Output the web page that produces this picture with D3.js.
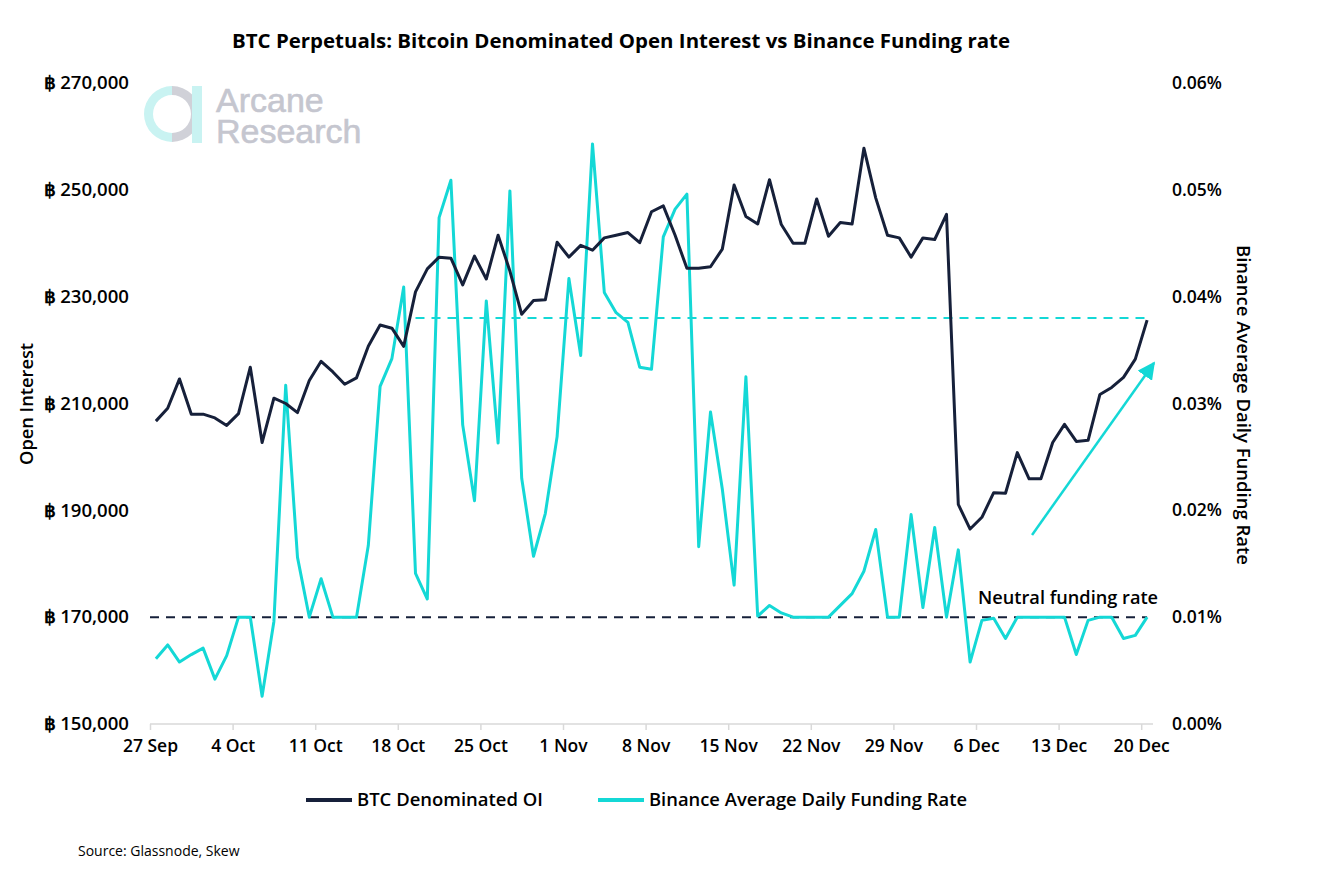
<!DOCTYPE html>
<html>
<head>
<meta charset="utf-8">
<script src="https://cdn.jsdelivr.net/npm/d3@7"></script>
<style>
  body { margin: 0; background: #ffffff; }
  svg { font-family: "Open Sans", "Noto Sans", sans-serif; }
</style>
</head>
<body>
<svg id="chart" width="1330" height="886"></svg>
<script>
// first day of the series, one value per day
var startDate = "27 Sep 2020";

var openInterest = [206700, 209100, 214600, 208000, 208000, 207300, 205900, 208100, 216800, 202700,
  211000, 210000, 208300, 214300, 217900, 215900, 213600, 214800, 220700, 224700,
  224100, 220700, 230900, 235200, 237400, 237200, 232200, 237600, 233300, 241500,
  234800, 226700, 229300, 229400, 240200, 237400, 239600, 238700, 241000, 241500,
  242000, 240100, 245900, 247000, 241500, 235300, 235300, 235600, 238900, 250900,
  245000, 243600, 251900, 243500, 240000, 240000, 248300, 241300, 243900, 243600,
  257800, 248500, 241500, 241000, 237400, 241000, 240700, 245400, 191100, 186500,
  188700, 193300, 193200, 200800, 195900, 195900, 202700, 206100, 202900, 203100,
  211700, 213000, 214900, 218300, 225600];

// percent
var fundingRate = [0.0061, 0.0074, 0.0058, 0.0065, 0.0071, 0.0042, 0.0064, 0.0100, 0.0100, 0.0026,
  0.0096, 0.0317, 0.0156, 0.0100, 0.0136, 0.0100, 0.0100, 0.0100, 0.0167, 0.0316,
  0.0342, 0.0409, 0.0141, 0.0117, 0.0474, 0.0509, 0.0280, 0.0209, 0.0396, 0.0263,
  0.0499, 0.0230, 0.0157, 0.0197, 0.0269, 0.0417, 0.0345, 0.0543, 0.0404, 0.0385,
  0.0376, 0.0334, 0.0332, 0.0456, 0.0482, 0.0496, 0.0166, 0.0292, 0.0220, 0.0130,
  0.0325, 0.0101, 0.0111, 0.0104, 0.0100, 0.0100, 0.0100, 0.0100, 0.0111, 0.0122,
  0.0143, 0.0182, 0.0100, 0.0100, 0.0196, 0.0109, 0.0184, 0.0100, 0.0163, 0.0058,
  0.0097, 0.0099, 0.0080, 0.0100, 0.0100, 0.0100, 0.0100, 0.0100, 0.0065, 0.0097,
  0.0100, 0.0100, 0.0080, 0.0083, 0.0100];

var xTickLabels = ["27 Sep", "4 Oct", "11 Oct", "18 Oct", "25 Oct", "1 Nov", "8 Nov",
  "15 Nov", "22 Nov", "29 Nov", "6 Dec", "13 Dec", "20 Dec"];
var oiTicks = [150000, 170000, 190000, 210000, 230000, 250000, 270000];
var rateTicks = [0, 0.01, 0.02, 0.03, 0.04, 0.05, 0.06];

var neutralRate = 0.01;
var recentRate = 0.038;      // level of the light blue dashed line
var recentFromDay = 22;      // day index where it starts
// arrow annotation, [day, open interest]
var arrowFrom = [74.75, 185400];
var arrowTo = [85.1, 217600];

var seriesNames = ["BTC Denominated OI", "Binance Average Daily Funding Rate"];

var navy = "#16203a";
var cyan = "#14d8d6";

var svg = d3.select("#chart");
var margin = { left: 150, right: 1153, top: 83, bottom: 724 };

var parseDay = d3.timeParse("%d %b %Y");
var day0 = parseDay(startDate);
var year = day0.getFullYear();
function dayAt(i) { return d3.timeHour.offset(day0, i * 24); }

// points sit in the middle of each day, like a date axis "between tick marks"
var x = d3.scaleTime()
  .domain([day0, d3.timeDay.offset(day0, openInterest.length)])
  .range([margin.left, margin.right]);
var yOI = d3.scaleLinear().domain([150000, 270000]).range([margin.bottom, margin.top]);
var yRate = d3.scaleLinear().domain([0, 0.06]).range([margin.bottom, margin.top]);

var oiData = openInterest.map(function(v, i) { return { t: dayAt(i + 0.5), v: v }; });
var rateData = fundingRate.map(function(v, i) { return { t: dayAt(i + 0.5), v: v }; });

// watermark
var logo = svg.append("g").attr("class", "logo");
var ring = d3.arc().innerRadius(19).outerRadius(28);
logo.append("path")
  .attr("transform", "translate(172,114)")
  .attr("d", ring({ startAngle: Math.PI, endAngle: 2 * Math.PI }))
  .attr("fill", "#c9f3f2");
logo.append("path")
  .attr("transform", "translate(172,114)")
  .attr("d", ring({ startAngle: 0, endAngle: Math.PI }))
  .attr("fill", "#d0d1d8");
logo.append("rect").attr("x", 192).attr("y", 86).attr("width", 10).attr("height", 57).attr("fill", "#c9f3f2");
var logoText = logo.append("text")
  .style("font-family", "'Liberation Sans', Arial, sans-serif").style("font-size", "34px")
  .attr("fill", "#c5c6cf").attr("stroke", "#c5c6cf").attr("stroke-width", 0.6);
logoText.append("tspan").attr("x", 216).attr("y", 112).text("Arcane");
logoText.append("tspan").attr("x", 216).attr("y", 143).text("Research");

// title
svg.append("text")
  .attr("x", 621).attr("y", 48)
  .attr("text-anchor", "middle")
  .style("font-size", "20px").style("font-weight", "700")
  .attr("fill", "#000")
  .attr("textLength", 778).attr("lengthAdjust", "spacingAndGlyphs")
  .text("BTC Perpetuals: Bitcoin Denominated Open Interest vs Binance Funding rate");

// x axis
var tickDates = xTickLabels.map(function(s) { return parseDay(s + " " + year); });
var xAxis = d3.axisBottom(x)
  .tickValues(tickDates)
  .tickSize(6)
  .tickPadding(10)
  .tickFormat(function(d, i) { return xTickLabels[i]; });

var gx = svg.append("g")
  .attr("transform", "translate(0," + margin.bottom + ")")
  .call(xAxis);
gx.select(".domain").attr("stroke", "#d9d9d9").attr("stroke-width", 1.5)
  .attr("d", "M" + margin.left + ",0H" + margin.right);
gx.selectAll(".tick line").attr("stroke", "#d9d9d9").attr("stroke-width", 1.5);
gx.selectAll(".tick text")
  .style("font-size", "17.5px").style("font-weight", "600").attr("fill", "#000")
  .style("font-family", "'Open Sans', sans-serif");

// left axis
var gl = svg.append("g")
  .attr("transform", "translate(" + (margin.left - 21) + ",0)")
  .call(d3.axisLeft(yOI).tickValues(oiTicks).tickSize(0).tickPadding(0)
    .tickFormat(function(d) { return "\u0E3F " + d3.format(",")(d); }));
gl.select(".domain").remove();
gl.selectAll(".tick text")
  .style("font-size", "18px").style("font-weight", "600").attr("fill", "#000")
  .style("font-family", "'Open Sans', sans-serif")
  .attr("textLength", 85).attr("lengthAdjust", "spacingAndGlyphs");

// right axis
var gr = svg.append("g")
  .attr("transform", "translate(" + (margin.right + 19) + ",0)")
  .call(d3.axisRight(yRate).tickValues(rateTicks).tickSize(0).tickPadding(0)
    .tickFormat(function(d) { return d3.format(".2f")(d) + "%"; }));
gr.select(".domain").remove();
gr.selectAll(".tick text")
  .style("font-size", "17.5px").style("font-weight", "600").attr("fill", "#000")
  .style("font-family", "'Open Sans', sans-serif");

// axis titles
svg.append("text")
  .attr("transform", "translate(33,404) rotate(-90)")
  .attr("text-anchor", "middle")
  .style("font-size", "17.5px").style("font-weight", "600")
  .attr("textLength", 122).attr("lengthAdjust", "spacingAndGlyphs")
  .text("Open Interest");
svg.append("text")
  .attr("transform", "translate(1237,405) rotate(90)")
  .attr("text-anchor", "middle")
  .style("font-size", "17.5px").style("font-weight", "600")
  .attr("textLength", 320).attr("lengthAdjust", "spacingAndGlyphs")
  .text("Binance Average Daily Funding Rate");

// reference lines
svg.append("line")
  .attr("x1", x(day0)).attr("x2", x(dayAt(openInterest.length - 0.5)))
  .attr("y1", yRate(neutralRate)).attr("y2", yRate(neutralRate))
  .attr("stroke", navy).attr("stroke-width", 2).attr("stroke-dasharray", "9,7");
svg.append("line")
  .attr("x1", x(dayAt(recentFromDay + 0.5))).attr("x2", x(dayAt(openInterest.length - 0.5)))
  .attr("y1", yRate(recentRate)).attr("y2", yRate(recentRate))
  .attr("stroke", cyan).attr("stroke-width", 2).attr("stroke-dasharray", "9,7");

// series
var lineOI = d3.line().x(function(d) { return x(d.t); }).y(function(d) { return yOI(d.v); });
var lineRate = d3.line().x(function(d) { return x(d.t); }).y(function(d) { return yRate(d.v); });

svg.append("path").datum(rateData)
  .attr("d", lineRate)
  .attr("fill", "none").attr("stroke", cyan).attr("stroke-width", 3).attr("stroke-linejoin", "round");
svg.append("path").datum(oiData)
  .attr("d", lineOI)
  .attr("fill", "none").attr("stroke", navy).attr("stroke-width", 3).attr("stroke-linejoin", "round");

// neutral label
svg.append("text")
  .attr("x", x(dayAt(openInterest.length - 0.5)) + 11).attr("y", yRate(neutralRate) - 13)
  .attr("text-anchor", "end")
  .style("font-size", "17.5px").style("font-weight", "600")
  .attr("textLength", 180).attr("lengthAdjust", "spacingAndGlyphs")
  .text("Neutral funding rate");

// arrow
var defs = svg.append("defs");
defs.append("marker")
  .attr("id", "head")
  .attr("viewBox", "0 0 10 10")
  .attr("refX", 9).attr("refY", 5)
  .attr("markerWidth", 7).attr("markerHeight", 7)
  .attr("markerUnits", "strokeWidth")
  .attr("orient", "auto")
  .append("path").attr("d", "M0,0L10,5L0,10Z").attr("fill", cyan);
svg.append("line")
  .attr("x1", x(dayAt(arrowFrom[0]))).attr("y1", yOI(arrowFrom[1]))
  .attr("x2", x(dayAt(arrowTo[0]))).attr("y2", yOI(arrowTo[1]))
  .attr("stroke", cyan).attr("stroke-width", 2.5)
  .attr("marker-end", "url(#head)");

// legend
var legend = svg.append("g").attr("transform", "translate(306,800)");
var legendX = [0, 292];
seriesNames.forEach(function(name, i) {
  var g = legend.append("g").attr("transform", "translate(" + legendX[i] + ",0)");
  g.append("line").attr("x1", 0).attr("x2", 46).attr("y1", 0).attr("y2", 0)
    .attr("stroke", i === 0 ? navy : cyan).attr("stroke-width", 4);
  g.append("text").attr("x", 51).attr("y", 6)
    .style("font-size", "17.5px").style("font-weight", "600")
    .attr("textLength", i === 0 ? 186 : 318).attr("lengthAdjust", "spacingAndGlyphs")
    .text(name);
});

// source
svg.append("text")
  .attr("x", 78).attr("y", 856)
  .style("font-size", "14px")
  .text("Source: Glassnode, Skew");
</script>
</body>
</html>
